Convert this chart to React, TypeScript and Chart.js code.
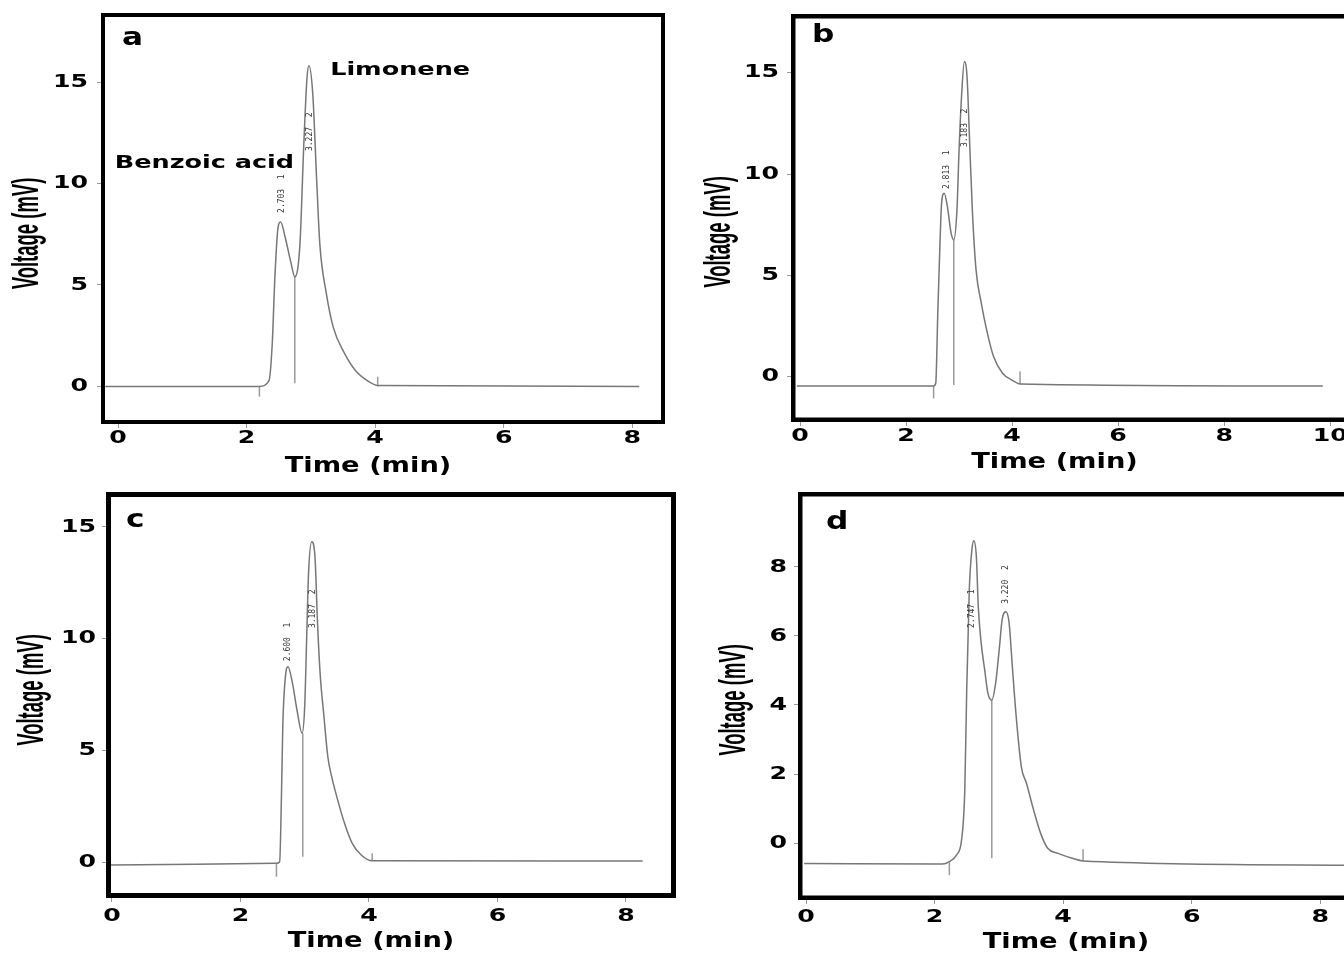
import React, { useEffect, useRef } from "react";
import { Chart, registerables } from "chart.js";

Chart.register(...registerables);

// ---------------- DATA ----------------
// Panel a
const timeA = [-0.2, 2.2, 2.35, 2.4, 2.44, 2.49, 2.53, 2.6, 2.69, 2.75, 2.83, 2.89, 2.94, 2.97, 3.03, 3.09, 3.14, 3.24, 3.35, 3.52, 3.69, 3.92, 4.04, 8.11];
const voltA = [0, 0, 0.3, 2.15, 5.35, 7.85, 8.1, 7.35, 6.1, 5.4, 7.0, 11.9, 15.2, 15.8, 14.4, 10.2, 7.0, 4.6, 2.9, 1.65, 0.8, 0.2, 0.05, 0];
const markerTimeA = [2.2, 2.75, 4.04];
const markerLowA = [-0.5, 0.16, 0];
const markerHighA = [0, 5.4, 0.48];
const peakTextA = ["2.703  1", "3.227  2"];
const peakTimeA = [2.55, 2.99];
const peakVoltA = [8.55, 11.6];
const namesA = ["Benzoic acid", "Limonene"];
const nameTimeA = [-0.05, 3.3];
const nameVoltA = [10.76, 15.34];
const xTicksA = [0, 2, 4, 6, 8];
const yTicksA = [0, 5, 10, 15];

// Panel b
const timeB = [-0.06, 2.52, 2.56, 2.6, 2.64, 2.67, 2.72, 2.78, 2.85, 2.9, 2.96, 3.0, 3.05, 3.1, 3.15, 3.2, 3.25, 3.32, 3.42, 3.52, 3.65, 3.82, 3.99, 4.15, 9.86];
const voltB = [-0.46, -0.46, -0.33, 3.29, 6.58, 8.56, 9.05, 8.39, 7.08, 6.75, 8.23, 11.19, 13.99, 15.55, 14.81, 11.52, 8.23, 5.27, 3.62, 2.31, 0.99, 0.17, -0.16, -0.36, -0.46];
const markerTimeB = [2.52, 2.9, 4.15];
const markerLowB = [-1.07, -0.41, -0.36];
const markerHighB = [-0.46, 6.75, 0.25];
const peakTextB = ["2.813  1", "3.183  2"];
const peakTimeB = [2.77, 3.11];
const peakVoltB = [9.26, 11.33];
const xTicksB = [0, 2, 4, 6, 8, 10];
const yTicksB = [0, 5, 10, 15];

// Panel c
const timeC = [-0.02, 2.56, 2.61, 2.64, 2.66, 2.7, 2.74, 2.81, 2.88, 2.96, 3.0, 3.03, 3.06, 3.11, 3.16, 3.2, 3.24, 3.3, 3.36, 3.42, 3.5, 3.62, 3.74, 3.88, 4.05, 8.26];
const voltC = [-0.11, -0.03, 0.04, 3.24, 6.22, 8.31, 8.75, 8.01, 6.82, 5.78, 6.97, 9.95, 12.93, 14.34, 13.67, 10.69, 8.46, 6.52, 4.73, 3.84, 2.94, 1.76, 0.86, 0.34, 0.08, 0.07];
const markerTimeC = [2.56, 2.97, 4.05];
const markerLowC = [-0.63, 0.26, 0.08];
const markerHighC = [-0.03, 5.78, 0.42];
const peakTextC = ["2.600  1", "3.187  2"];
const peakTimeC = [2.74, 3.13];
const peakVoltC = [9.0, 10.48];
const xTicksC = [0, 2, 4, 6, 8];
const yTicksC = [0, 5, 10, 15];

// Panel d
const timeD = [-0.03, 2.12, 2.23, 2.34, 2.42, 2.47, 2.5, 2.54, 2.58, 2.61, 2.65, 2.68, 2.72, 2.78, 2.83, 2.89, 2.95, 3.01, 3.05, 3.11, 3.16, 3.21, 3.27, 3.35, 3.43, 3.54, 3.65, 3.76, 3.92, 4.14, 4.31, 8.37];
const voltD = [-0.59, -0.61, -0.54, -0.35, 0.09, 1.54, 4.43, 7.33, 8.49, 8.76, 8.3, 6.85, 5.88, 5.01, 4.34, 4.14, 4.63, 5.69, 6.46, 6.7, 6.37, 5.11, 3.66, 2.21, 1.73, 0.96, 0.28, -0.15, -0.3, -0.44, -0.52, -0.64];
const markerTimeD = [2.23, 2.89, 4.31];
const markerLowD = [-0.93, -0.44, -0.52];
const markerHighD = [-0.54, 4.14, -0.18];
const peakTextD = ["2.747  1", "3.220  2"];
const peakTimeD = [2.58, 3.11];
const peakVoltD = [6.23, 6.93];
const xTicksD = [0, 2, 4, 6, 8];
const yTicksD = [0, 2, 4, 6, 8];

const X_TITLE = "Time (min)";
const Y_TITLE = "Voltage (mV)";

// ---------------- STYLES ----------------
const TRACE_COLOR = "#777777";
const MARKER_COLOR = "#9a9a9a";
const TICK_FONT = { family: '"DejaVu Sans", "Liberation Sans", sans-serif', size: 18, weight: "bold" as const, lineHeight: 1 };
const X_TITLE_FONT = { family: '"DejaVu Sans", sans-serif', size: 21, weight: "bold" as const, lineHeight: 1.2 };
const Y_TITLE_FONT = { family: '"Liberation Sans", Arial, sans-serif', size: 24, weight: "bold" as const, lineHeight: 1.2 };
const LETTER_FONT = 'bold 24px "DejaVu Sans", sans-serif';
const NAME_FONT = 'bold 17px "DejaVu Sans", sans-serif';
const PEAK_FONT = '8px "DejaVu Sans Mono", monospace';
const TICK_STRETCH = 1.4;
const X_TITLE_STRETCH = 1.3;
const Y_TITLE_STRETCH_X = 1.5;
const Y_TITLE_STRETCH_Y = 0.77;

type PanelCfg = {
  letter: string; left: number; top: number; width: number; height: number;
  yAxisWidth: number; xAxisHeight: number; padTop: number; padRight: number;
  xMin: number; xMax: number; yMin: number; yMax: number;
  xTicks: number[]; yTicks: number[];
  time: number[]; volt: number[];
  markerTime: number[]; markerLow: number[]; markerHigh: number[];
  peakText: string[]; peakTime: number[]; peakVolt: number[];
  names: string[]; nameTime: number[]; nameVolt: number[];
  sides: string[]; frameWidth: number;
  xTickPad: number; yTickPad: number; xTitlePad: number; yTitlePad: number;
  xShift: number; yShift: number; letterPos: number[];
};

const panels: PanelCfg[] = [
  {
    letter: "a", left: 0, top: 0, width: 672, height: 480,
    yAxisWidth: 101, xAxisHeight: 56, padTop: 13, padRight: 7,
    xMin: -0.265, xMax: 8.51, yMin: -1.85, yMax: 18.4,
    xTicks: xTicksA, yTicks: yTicksA, time: timeA, volt: voltA,
    markerTime: markerTimeA, markerLow: markerLowA, markerHigh: markerHighA,
    peakText: peakTextA, peakTime: peakTimeA, peakVolt: peakVoltA,
    names: namesA, nameTime: nameTimeA, nameVolt: nameVoltA,
    sides: ["left", "top", "right", "bottom"], frameWidth: 4,
    xTickPad: 1, yTickPad: 9, xTitlePad: 0.4, yTitlePad: 13.6, xShift: -15, yShift: 15,
    letterPos: [21, 32],
  },
  {
    letter: "b", left: 680, top: 0, width: 664, height: 480,
    yAxisWidth: 111, xAxisHeight: 58, padTop: 14, padRight: 0,
    xMin: -0.17, xMax: 10.26, yMin: -2.24, yMax: 17.9,
    xTicks: xTicksB, yTicks: yTicksB, time: timeB, volt: voltB,
    markerTime: markerTimeB, markerLow: markerLowB, markerHigh: markerHighB,
    peakText: peakTextB, peakTime: peakTimeB, peakVolt: peakVoltB,
    names: [], nameTime: [], nameVolt: [],
    sides: ["left", "top", "bottom"], frameWidth: 4.5,
    xTickPad: 1, yTickPad: 8, xTitlePad: 4.4, yTitlePad: 25.6, xShift: -13, yShift: 14,
    letterPos: [21, 28],
  },
  {
    letter: "c", left: 0, top: 480, width: 690, height: 476,
    yAxisWidth: 106, xAxisHeight: 58, padTop: 12, padRight: 14,
    xMin: -0.093, xMax: 8.78, yMin: -1.58, yMax: 16.56,
    xTicks: xTicksC, yTicks: yTicksC, time: timeC, volt: voltC,
    markerTime: markerTimeC, markerLow: markerLowC, markerHigh: markerHighC,
    peakText: peakTextC, peakTime: peakTimeC, peakVolt: peakVoltC,
    names: [], nameTime: [], nameVolt: [],
    sides: ["left", "top", "right", "bottom"], frameWidth: 5,
    xTickPad: 5, yTickPad: 6, xTitlePad: 1.4, yTitlePad: 18.6, xShift: -20, yShift: -5,
    letterPos: [20, 35],
  },
  {
    letter: "d", left: 690, top: 480, width: 654, height: 476,
    yAxisWidth: 108, xAxisHeight: 56, padTop: 12, padRight: 0,
    xMin: -0.125, xMax: 8.37, yMin: -1.65, yMax: 10.17,
    xTicks: xTicksD, yTicks: yTicksD, time: timeD, volt: voltD,
    markerTime: markerTimeD, markerLow: markerLowD, markerHigh: markerHighD,
    peakText: peakTextD, peakTime: peakTimeD, peakVolt: peakVoltD,
    names: [], nameTime: [], nameVolt: [],
    sides: ["left", "top", "bottom"], frameWidth: 4.5,
    xTickPad: 4, yTickPad: 7, xTitlePad: 0.4, yTitlePad: 30.6, xShift: -5, yShift: 4,
    letterPos: [28, 37],
  },
];

// ---------------- HELPERS ----------------
function drawText(ctx: CanvasRenderingContext2D, text: string, x: number, y: number, font: string, color: string,
  sx: number, sy: number, align: CanvasTextAlign, baseline: CanvasTextBaseline, rot: number) {
  ctx.save();
  ctx.translate(x, y);
  if (rot) ctx.rotate(rot);
  ctx.scale(sx, sy);
  ctx.font = font;
  ctx.fillStyle = color;
  ctx.textAlign = align;
  ctx.textBaseline = baseline;
  ctx.fillText(text, 0, 0);
  ctx.restore();
}

function clearPadding(scale: any) {
  scale.paddingTop = 0;
  scale.paddingBottom = 0;
  scale.paddingLeft = 0;
  scale.paddingRight = 0;
}

function patchLabels(scale: any) {
  const proto = Object.getPrototypeOf(scale);
  scale.drawLabels = function (chartArea: any) {
    const items = this.getLabelItems(chartArea);
    const ctx: CanvasRenderingContext2D = this.ctx;
    for (const item of items) {
      const o = item.options || {};
      if (!o.translation) { proto.drawLabels.call(this, chartArea); return; }
      ctx.save();
      ctx.translate(o.translation[0], o.translation[1]);
      if (o.rotation) ctx.rotate(o.rotation);
      ctx.scale(TICK_STRETCH, 1);
      ctx.font = item.font.string;
      ctx.fillStyle = o.color || "#000";
      ctx.textAlign = o.textAlign;
      ctx.textBaseline = o.textBaseline;
      ctx.fillText(String(item.label), 0, item.textOffset);
      ctx.restore();
    }
  };
}

function patchXTitle(scale: any, cfg: PanelCfg) {
  const proto = Object.getPrototypeOf(scale);
  scale.drawTitle = function () {
    const ctx: CanvasRenderingContext2D = this.ctx;
    const cx = (this.left + this.right) / 2;
    const cy = this.bottom - cfg.xTitlePad - (X_TITLE_FONT.size * X_TITLE_FONT.lineHeight) / 2;
    ctx.save();
    ctx.translate(cx + cfg.xShift, cy);
    ctx.scale(X_TITLE_STRETCH, 1);
    ctx.translate(-cx, -cy);
    proto.drawTitle.call(this);
    ctx.restore();
  };
}

function patchYTitle(scale: any, cfg: PanelCfg) {
  const proto = Object.getPrototypeOf(scale);
  scale.drawTitle = function () {
    const ctx: CanvasRenderingContext2D = this.ctx;
    const cx = this.left + cfg.yTitlePad + (Y_TITLE_FONT.size * Y_TITLE_FONT.lineHeight) / 2;
    const cy = (this.top + this.bottom) / 2;
    ctx.save();
    ctx.translate(cx, cy + cfg.yShift);
    ctx.scale(Y_TITLE_STRETCH_X, Y_TITLE_STRETCH_Y);
    ctx.translate(-cx, -cy);
    proto.drawTitle.call(this);
    ctx.restore();
  };
}

function makeDecor(cfg: PanelCfg) {
  return {
    id: "decor" + cfg.letter,
    afterDatasetsDraw(chart: any) {
      const ctx: CanvasRenderingContext2D = chart.ctx;
      const xs = chart.scales.x;
      const ys = chart.scales.y;
      const area = chart.chartArea;
      cfg.peakText.forEach((t, i) => {
        drawText(ctx, t, xs.getPixelForValue(cfg.peakTime[i]), ys.getPixelForValue(cfg.peakVolt[i]),
          PEAK_FONT, "#333", 1, 1, "left", "middle", -Math.PI / 2);
      });
      cfg.names.forEach((t, i) => {
        drawText(ctx, t, xs.getPixelForValue(cfg.nameTime[i]), ys.getPixelForValue(cfg.nameVolt[i]),
          NAME_FONT, "#000", 1.5, 1, "left", "alphabetic", 0);
      });
      drawText(ctx, cfg.letter, area.left + cfg.letterPos[0], area.top + cfg.letterPos[1],
        LETTER_FONT, "#000", 1.3, 1, "left", "alphabetic", 0);
    },
    afterDraw(chart: any) {
      const ctx: CanvasRenderingContext2D = chart.ctx;
      const { left, top, right, bottom } = chart.chartArea;
      const w = cfg.frameWidth;
      ctx.save();
      ctx.fillStyle = "#000";
      if (cfg.sides.includes("left")) ctx.fillRect(left, top, w, bottom - top);
      if (cfg.sides.includes("top")) ctx.fillRect(left, top, right - left, w);
      if (cfg.sides.includes("right")) ctx.fillRect(right - w, top, w, bottom - top);
      if (cfg.sides.includes("bottom")) ctx.fillRect(left, bottom - w, right - left, w);
      ctx.restore();
    },
  };
}

function Panel({ cfg }: { cfg: PanelCfg }) {
  const ref = useRef<HTMLCanvasElement>(null);
  useEffect(() => {
    const canvas = ref.current;
    if (!canvas) return;
    const datasets: any[] = [
      {
        data: cfg.time.map((t, i) => ({ x: t, y: cfg.volt[i] })),
        borderColor: TRACE_COLOR,
        borderWidth: 1.5,
        pointRadius: 0,
        fill: false,
        cubicInterpolationMode: "monotone",
      },
      ...cfg.markerTime.map((t, i) => ({
        data: [{ x: t, y: cfg.markerLow[i] }, { x: t, y: cfg.markerHigh[i] }],
        borderColor: MARKER_COLOR,
        borderWidth: 1.5,
        pointRadius: 0,
        fill: false,
      })),
    ];
    const chart = new Chart(canvas, {
      type: "line",
      data: { datasets },
      plugins: [makeDecor(cfg)],
      options: {
        responsive: false,
        animation: false,
        devicePixelRatio: 1,
        events: [],
        layout: { padding: { top: cfg.padTop, right: cfg.padRight, left: 0, bottom: 0 } },
        plugins: { legend: { display: false }, tooltip: { enabled: false }, title: { display: false } },
        scales: {
          x: {
            type: "linear",
            min: cfg.xMin,
            max: cfg.xMax,
            afterBuildTicks: (s: any) => { s.ticks = cfg.xTicks.map((v) => ({ value: v })); },
            afterFit: (s: any) => { s.height = cfg.xAxisHeight; clearPadding(s); patchLabels(s); patchXTitle(s, cfg); },
            grid: { display: true, drawOnChartArea: false, drawTicks: true, tickLength: 4, color: "#999", tickColor: "#999" },
            border: { display: false },
            ticks: { font: TICK_FONT, color: "#000", padding: cfg.xTickPad, autoSkip: false, maxRotation: 0, minRotation: 0 },
            title: { display: true, text: X_TITLE, font: X_TITLE_FONT, color: "#000", padding: { top: 0, bottom: cfg.xTitlePad } },
          },
          y: {
            type: "linear",
            min: cfg.yMin,
            max: cfg.yMax,
            afterBuildTicks: (s: any) => { s.ticks = cfg.yTicks.map((v) => ({ value: v })); },
            afterFit: (s: any) => { s.width = cfg.yAxisWidth; clearPadding(s); patchLabels(s); patchYTitle(s, cfg); },
            grid: { display: true, drawOnChartArea: false, drawTicks: true, tickLength: 4, color: "#999", tickColor: "#999" },
            border: { display: false },
            ticks: { font: TICK_FONT, color: "#000", padding: cfg.yTickPad, autoSkip: false },
            title: { display: true, text: Y_TITLE, font: Y_TITLE_FONT, color: "#000", padding: { top: cfg.yTitlePad, bottom: 0 } },
          },
        },
      } as any,
    });
    return () => chart.destroy();
  }, [cfg]);
  return (
    <div style={{ position: "absolute", left: cfg.left, top: cfg.top, width: cfg.width, height: cfg.height }}>
      <canvas ref={ref} width={cfg.width} height={cfg.height} style={{ display: "block", width: cfg.width, height: cfg.height }} />
    </div>
  );
}

export default function App() {
  return (
    <div style={{ position: "absolute", left: 0, top: 0, width: 1344, height: 956, background: "#fff", overflow: "hidden" }}>
      {panels.map((p) => (
        <Panel key={p.letter} cfg={p} />
      ))}
    </div>
  );
}
